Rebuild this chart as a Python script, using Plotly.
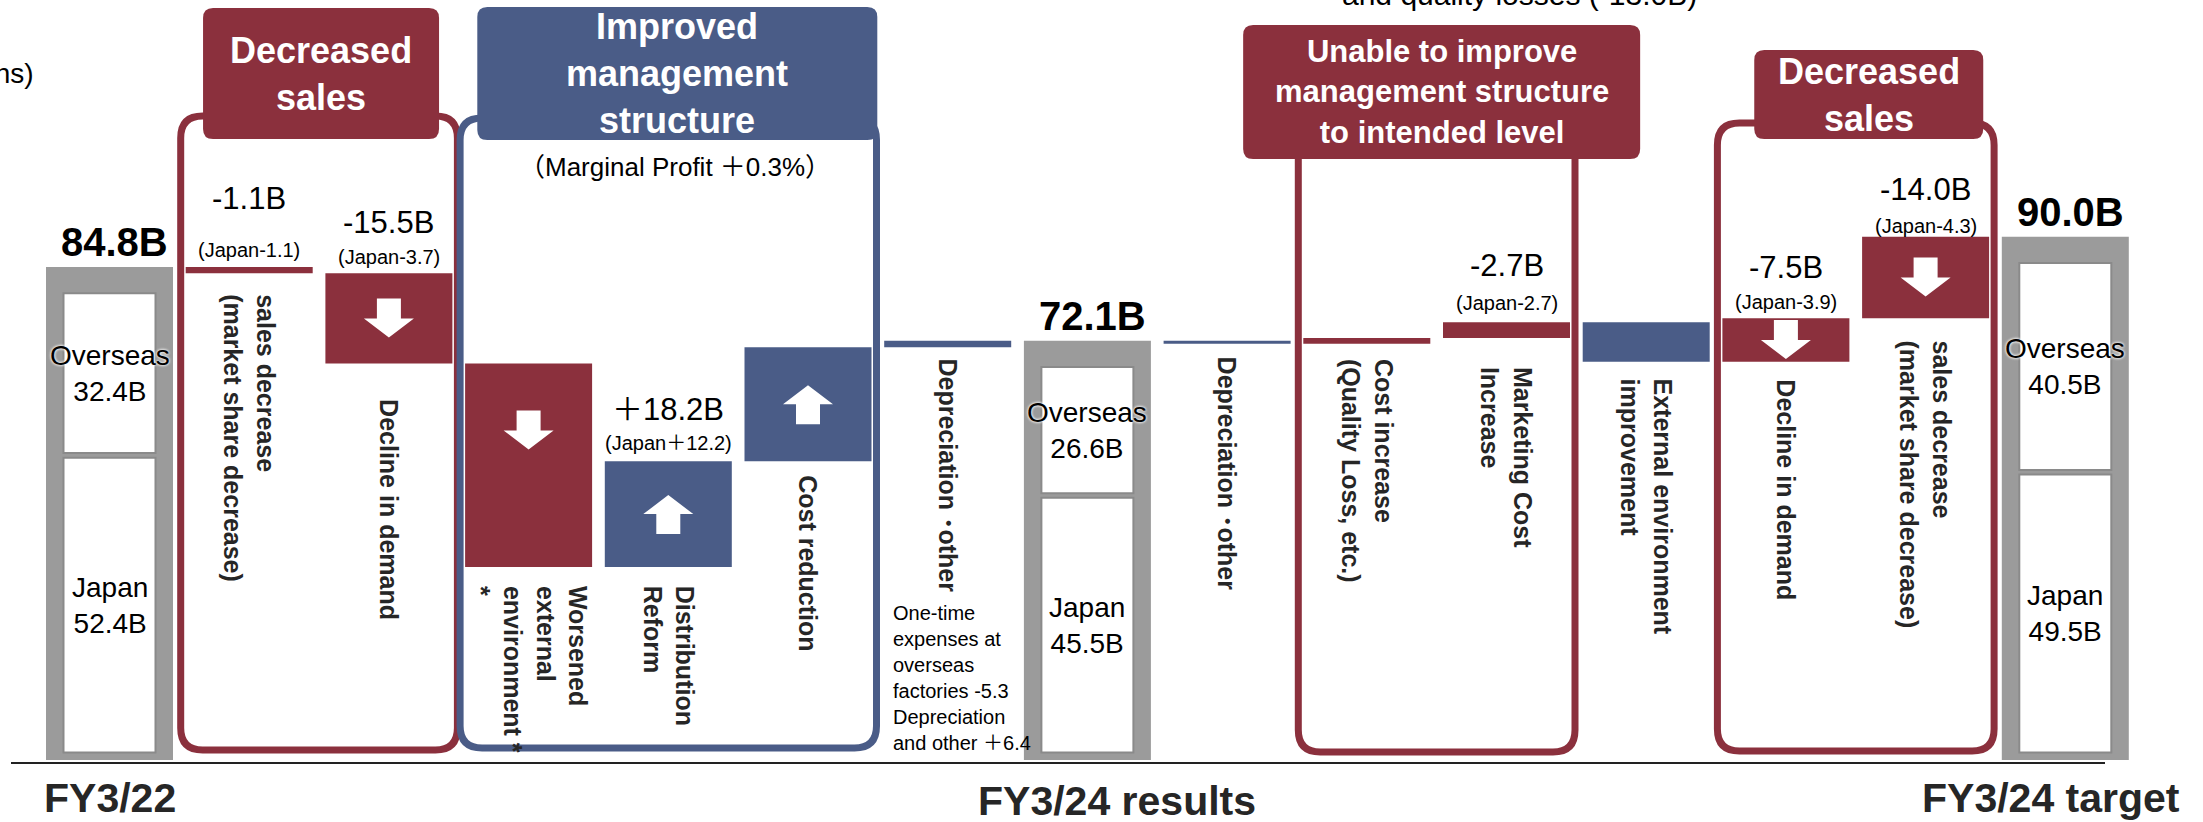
import plotly.graph_objects as go

# ---------------- values (billions of yen) ----------------
period_labels = ["FY3/22", "FY3/24 results", "FY3/24 target"]
overseas_sales = [32.4, 26.6, 40.5]
japan_sales = [52.4, 45.5, 49.5]

# FY3/22 -> FY3/24 results
bridge_a_items = [
    "sales decrease<br>(market share decrease)",
    "Decline in demand",
    "Worsened<br>external<br>environment *<br>*",
    "Distribution<br>Reform",
    "Cost reduction",
    "Depreciation \uff65other",
]
bridge_a_values = [-1.1, -15.5, -35.0, 18.2, 19.6, 1.1]
bridge_a_japan = [-1.1, -3.7, None, 12.2, None, None]
bridge_a_labelled = [True, True, False, True, False, False]

# FY3/24 results vs FY3/24 target (effect of each item on the results)
bridge_b_items = [
    "Depreciation \uff65other",
    "Cost increase<br>(Quality Loss, etc.)",
    "Marketing Cost<br>Increase",
    "External environment<br>improvement",
    "Decline in demand",
    "sales decrease<br>(market share decrease)",
]
bridge_b_values = [0.5, -1.0, -2.7, 6.8, -7.5, -14.0]
bridge_b_japan = [None, None, -2.7, None, -3.9, -4.3]
bridge_b_labelled = [False, False, True, False, True, True]

group_titles = [
    "Decreased<br>sales",
    "Improved<br>management<br>structure",
    "Unable to improve<br>management structure<br>to intended level",
    "Decreased<br>sales",
]
group_spans = [(1, 2), (3, 5), (9, 10), (12, 13)]
depr_note = ("One-time<br>expenses at<br>overseas<br>factories -5.3<br>"
             "Depreciation<br>and other \uff0b6.4")
margin_note = "\uff08Marginal Profit \uff0b0.3%\uff09"

# ---------------- styling ----------------
RED = "#8b303d"
BLUE = "#4a5c87"
GREY = "#9b9b9b"
INK = "#262626"
FONT = "Liberation Sans, Arial, Noto Sans CJK JP, sans-serif"

W, H = 2203, 822
PITCH, X0 = 139.7, 109.5      # px per category slot, px of first slot centre
PPU, Y0 = 5.814, 760.0        # px per billion, px of the zero line
BAR_PX, INNER_PX = 127.0, 92.0
group_colors = [RED, BLUE, RED, RED]
group_top = [116, 118, 120, 123]
group_bottom = [750, 748, 752, 751]
header_dx = [2, 9, 5, 13]
header_w = [236, 400, 397, 229]
header_top = [8, 7, 25, 50]
header_bottom = [139, 140, 159, 139]
header_font = [36, 36, 31, 36]
a_text_gap = [19, 34, 17, 17, 12, 9]
b_text_gap = [11, 13, 27, 15, 16, 20]
a_value_lift = [68, 51, 0, 52, 0, 0]
a_japan_lift = [17, 16, 0, 18, 0, 0]
b_value_lift = [0, 0, 57, 0, 51, 47]
b_japan_lift = [0, 0, 19, 0, 16, 11]


def xd(px):
    return (px - X0) / PITCH


def yd(py):
    return (Y0 - py) / PPU


def xp(x):
    return X0 + x * PITCH


def yp(v):
    return Y0 - v * PPU


def fmt(v):
    return ("\uff0b" if v > 0 else "-") + f"{abs(v):.1f}"


totals = [o + j for o, j in zip(overseas_sales, japan_sales)]
period_x = [0, 7, 14]
a_x = list(range(1, 7))
b_x = list(range(8, 14))

# floating bars of the two bridges
fx, fbase, flen, fcol, fval = [], [], [], [], []
level = totals[0]
for x, v in zip(a_x, bridge_a_values):
    nxt = level + v
    fx.append(x); fbase.append(min(level, nxt)); flen.append(abs(v))
    fcol.append(RED if v < 0 else BLUE); fval.append(v)
    level = nxt
level = totals[1]
for x, v in zip(b_x, bridge_b_values):
    nxt = level - v
    fx.append(x); fbase.append(min(level, nxt)); flen.append(abs(v))
    fcol.append(RED if v < 0 else BLUE); fval.append(v)
    level = nxt

fig = go.Figure()
bw = BAR_PX / PITCH
iw = INNER_PX / PITCH
fig.add_trace(go.Bar(x=period_x, y=totals, width=bw,
                     marker=dict(color=GREY, line=dict(width=0)), hoverinfo="skip"))
JP_BOTTOM, GAP, TOP_INSET = 1.3, 0.4, 4.5
fig.add_trace(go.Bar(x=period_x, base=[JP_BOTTOM] * 3,
                     y=[j - JP_BOTTOM - GAP for j in japan_sales], width=iw,
                     marker=dict(color="white", line=dict(color="#8a8a8a", width=2)),
                     hoverinfo="skip"))
fig.add_trace(go.Bar(x=period_x, base=[j + GAP for j in japan_sales],
                     y=[o - GAP - TOP_INSET for o in overseas_sales], width=iw,
                     marker=dict(color="white", line=dict(color="#8a8a8a", width=2)),
                     hoverinfo="skip"))
fig.add_trace(go.Bar(x=fx, base=fbase, y=flen, width=bw,
                     marker=dict(color=fcol, line=dict(width=0)), hoverinfo="skip"))

shapes = []
annotations = []


def rounded_path(x0, y0, x1, y1, r):
    def P(px, py):
        return f"{xd(px):.5f},{yd(py):.5f}"
    return (f"M {P(x0 + r, y0)} L {P(x1 - r, y0)} Q {P(x1, y0)} {P(x1, y0 + r)} "
            f"L {P(x1, y1 - r)} Q {P(x1, y1)} {P(x1 - r, y1)} L {P(x0 + r, y1)} "
            f"Q {P(x0, y1)} {P(x0, y1 - r)} L {P(x0, y0 + r)} Q {P(x0, y0)} {P(x0 + r, y0)} Z")


# group frames and their headers
for g, (i0, i1) in enumerate(group_spans):
    left = xp(i0) - BAR_PX / 2 - 5
    right = xp(i1) + BAR_PX / 2 + 5
    shapes.append(dict(type="path", xref="x", yref="y", layer="below",
                       path=rounded_path(left, group_top[g], right, group_bottom[g], 22),
                       line=dict(color=group_colors[g], width=7),
                       fillcolor="rgba(0,0,0,0)"))
    cx = (left + right) / 2 + header_dx[g]
    hx0, hx1 = cx - header_w[g] / 2, cx + header_w[g] / 2
    shapes.append(dict(type="path", xref="x", yref="y", layer="above",
                       path=rounded_path(hx0, header_top[g], hx1, header_bottom[g], 10),
                       line=dict(width=0), fillcolor=group_colors[g]))
    annotations.append(dict(x=xd(cx), y=yd((header_top[g] + header_bottom[g]) / 2),
                            text=f"<b>{group_titles[g]}</b>", showarrow=False,
                            xanchor="center", yanchor="middle",
                            font=dict(family=FONT, size=header_font[g], color="white")))

# zero line under the bars
shapes.append(dict(type="line", xref="x", yref="y", layer="above",
                   x0=xd(11), x1=xd(2105), y0=yd(763), y1=yd(763),
                   line=dict(color="#222222", width=2)))

# block arrows inside the large movements
for x, b, l, v in zip(fx, fbase, flen, fval):
    if abs(v) < 7.5:
        continue
    top_px, bot_px = yp(b + l), yp(b)
    cy = min((top_px + bot_px) / 2, top_px + 67)
    cx = xp(x)
    s = 1 if v < 0 else -1
    pts = [(-12, -20), (12, -20), (12, 0), (25, 0), (0, 19), (-25, 0), (-12, 0)]
    path = "M " + " L ".join(f"{xd(cx + dx):.5f},{yd(cy + s * dy):.5f}" for dx, dy in pts) + " Z"
    shapes.append(dict(type="path", xref="x", yref="y", layer="above", path=path,
                       fillcolor="white", line=dict(width=0)))

# period totals and regional split
for k, x in enumerate(period_x):
    annotations.append(dict(x=x, y=totals[k], text=f"<b>{totals[k]:.1f}B</b>",
                            showarrow=False, xanchor="center", yanchor="middle",
                            yshift=25, xshift=5,
                            font=dict(family=FONT, size=40, color="black")))
    jp_mid = (JP_BOTTOM + japan_sales[k] - GAP) / 2
    ov_mid = (japan_sales[k] + GAP + totals[k] - TOP_INSET) / 2
    annotations.append(dict(x=x, y=ov_mid, text=f"Overseas<br>{overseas_sales[k]:.1f}B",
                            showarrow=False, xanchor="center", yanchor="middle",
                            font=dict(family=FONT, size=28, color="black",
                                      shadow="0px 0px 3px white, 0px 0px 3px white")))
    annotations.append(dict(x=x, y=jp_mid, text=f"Japan<br>{japan_sales[k]:.1f}B",
                            showarrow=False, xanchor="center", yanchor="middle",
                            font=dict(family=FONT, size=28, color="black")))

period_dx = [0, 30, -14]
period_py = [798, 801, 798]
for k, x in enumerate(period_x):
    annotations.append(dict(x=x, y=yd(period_py[k]), text=f"<b>{period_labels[k]}</b>",
                            showarrow=False, xanchor="center", yanchor="middle",
                            xshift=period_dx[k],
                            font=dict(family=FONT, size=41, color=INK)))

# factor names and value labels
items = bridge_a_items + bridge_b_items
gaps = a_text_gap + b_text_gap
japan = bridge_a_japan + bridge_b_japan
labelled = bridge_a_labelled + bridge_b_labelled
vlift = a_value_lift + b_value_lift
jlift = a_japan_lift + b_japan_lift
for n, (x, b, l, v) in enumerate(zip(fx, fbase, flen, fval)):
    annotations.append(dict(x=x, y=yd(yp(b) + gaps[n]), text=f"<b>{items[n]}</b>",
                            showarrow=False, textangle=90, align="left",
                            xanchor="center", yanchor="top",
                            font=dict(family=FONT, size=25, color=INK)))
    if labelled[n]:
        annotations.append(dict(x=x, y=b + l, text=f"{fmt(v)}B", showarrow=False,
                                xanchor="center", yanchor="middle", yshift=vlift[n],
                                font=dict(family=FONT, size=31, color="black")))
        annotations.append(dict(x=x, y=b + l, text=f"(Japan{fmt(japan[n])})",
                                showarrow=False, xanchor="center", yanchor="middle",
                                yshift=jlift[n],
                                font=dict(family=FONT, size=20, color="black")))

# notes
annotations.append(dict(x=xd(668 + 7), y=yd(167), text=margin_note, showarrow=False,
                        xanchor="center", yanchor="middle",
                        font=dict(family=FONT, size=26, color="black")))
annotations.append(dict(x=xd(891), y=yd(678), text=depr_note, showarrow=False,
                        xanchor="left", yanchor="middle", align="left",
                        font=dict(family=FONT, size=20, color="black")))
annotations.append(dict(x=xd(36), y=yd(73), text="(Unit: billions)", showarrow=False,
                        xanchor="right", yanchor="middle",
                        font=dict(family=FONT, size=28, color="black")))
# caption running off the top edge
annotations.append(dict(x=xd(1519), xref="x", yref="paper", y=1 + 5 / H,
                        text="and quality losses (-13.0B)",
                        showarrow=False, xanchor="center", yanchor="middle",
                        font=dict(family=FONT, size=30, color="black")))

fig.update_layout(
    width=W, height=H, margin=dict(l=0, r=0, t=0, b=0),
    paper_bgcolor="white", plot_bgcolor="white",
    barmode="overlay", showlegend=False,
    xaxis=dict(range=[xd(0), xd(W)], visible=False, fixedrange=True),
    yaxis=dict(range=[yd(H), yd(0)], visible=False, fixedrange=True),
    shapes=shapes, annotations=annotations,
)
fig.write_html("out.html", config={"displayModeBar": False})
